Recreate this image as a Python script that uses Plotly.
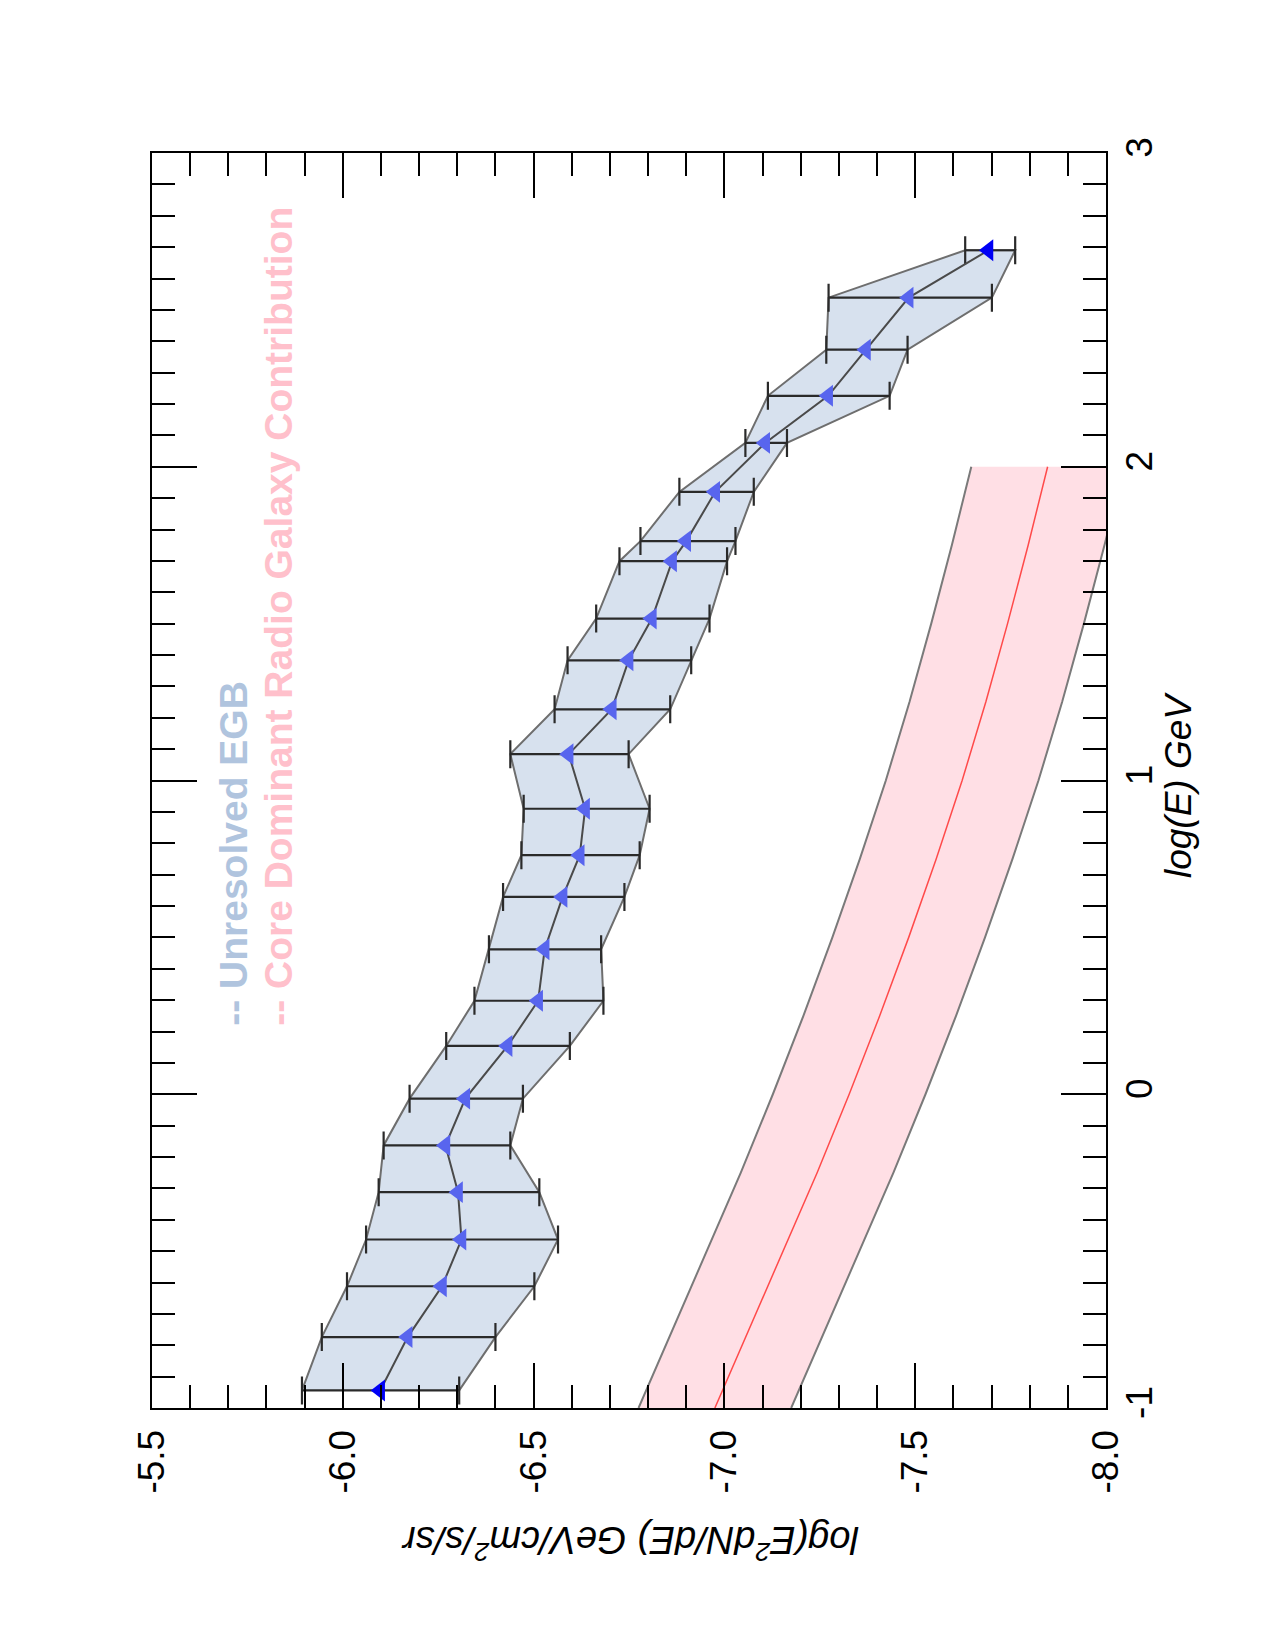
import plotly.graph_objects as go

# ---------------- data ----------------
# Unresolved EGB: log(E) [GeV] and log(E^2 dN/dE) central / upper / lower
egb_logE = [-0.944, -0.774, -0.612, -0.463, -0.312, -0.163, -0.014, 0.154, 0.298, 0.462,
            0.629, 0.762, 0.910, 1.084, 1.227, 1.383, 1.516, 1.699, 1.763, 1.920,
            2.076, 2.226, 2.373, 2.539, 2.690]
egb_flux = [-6.098, -6.170, -6.260, -6.311, -6.302, -6.269, -6.321, -6.432, -6.512, -6.529,
            -6.576, -6.621, -6.635, -6.592, -6.705, -6.749, -6.810, -6.863, -6.900, -6.976,
            -7.107, -7.272, -7.371, -7.483, -7.692]
egb_flux_hi = [-5.893, -5.945, -6.011, -6.061, -6.094, -6.107, -6.175, -6.271, -6.345, -6.383,
               -6.420, -6.468, -6.474, -6.439, -6.555, -6.589, -6.664, -6.725, -6.780, -6.882,
               -7.055, -7.114, -7.267, -7.273, -7.631]
egb_flux_lo = [-6.305, -6.400, -6.502, -6.564, -6.515, -6.439, -6.472, -6.595, -6.683, -6.677,
               -6.738, -6.778, -6.804, -6.749, -6.858, -6.913, -6.961, -7.007, -7.029, -7.077,
               -7.164, -7.433, -7.480, -7.701, -7.762]

# Core dominant radio galaxy contribution
core_logE = [-1.0, -0.75, -0.5, -0.25, 0.0, 0.25, 0.5, 0.75, 1.0, 1.25, 1.5, 1.75, 2.0]
core_flux = [-6.975, -7.065, -7.155, -7.243, -7.327, -7.407, -7.483, -7.555, -7.623, -7.685,
             -7.742, -7.796, -7.847]
core_flux_hi = [-6.775, -6.865, -6.955, -7.043, -7.127, -7.207, -7.283, -7.355, -7.423, -7.485,
                -7.542, -7.596, -7.647]
core_flux_lo = [-7.175, -7.265, -7.355, -7.443, -7.527, -7.607, -7.683, -7.755, -7.823, -7.885,
                -7.942, -7.996, -8.047]

flux_ticks = [-5.5, -6.0, -6.5, -7.0, -7.5, -8.0]
flux_ticklabels = ["-5.5", "-6.0", "-6.5", "-7.0", "-7.5", "-8.0"]
logE_ticks = [-1, 0, 1, 2, 3]
logE_ticklabels = ["-1", "0", "1", "2", "3"]

FONT = "Liberation Sans, Arial, Helvetica, sans-serif"

fig = go.Figure()

# pink band (fill only)
fig.add_trace(go.Scatter(
    x=core_flux_hi + core_flux_lo[::-1], y=core_logE + core_logE[::-1],
    mode="lines", fill="toself", fillcolor="rgba(255,192,203,0.5)",
    line=dict(width=0), hoverinfo="skip", showlegend=False))
for arr in (core_flux_hi, core_flux_lo):
    fig.add_trace(go.Scatter(x=arr, y=core_logE, mode="lines",
                             line=dict(color="#7a7a7a", width=2), showlegend=False))
fig.add_trace(go.Scatter(x=core_flux, y=core_logE, mode="lines",
                         line=dict(color="#ff4a4a", width=1.5), showlegend=False))

# EGB band
fig.add_trace(go.Scatter(
    x=egb_flux_hi + egb_flux_lo[::-1], y=egb_logE + egb_logE[::-1],
    mode="lines", fill="toself", fillcolor="rgba(176,196,222,0.5)",
    line=dict(color="#6e6e6e", width=2), showlegend=False))

err_plus = [h - c for h, c in zip(egb_flux_hi, egb_flux)]
err_minus = [c - l for c, l in zip(egb_flux, egb_flux_lo)]
marker_colors = ["#5865ee"] * len(egb_flux)
marker_colors[0] = "rgb(0,0,245)"
marker_colors[-1] = "rgb(0,0,245)"

fig.add_trace(go.Scatter(
    x=egb_flux, y=egb_logE, mode="lines+markers",
    line=dict(color="#4a4a4a", width=2),
    marker=dict(symbol="triangle-left", size=19, color=marker_colors, line=dict(width=0)),
    error_x=dict(type="data", symmetric=False, array=err_plus, arrayminus=err_minus,
                 color="#2a2a2a", thickness=2.2, width=14),
    showlegend=False))

axis_common = dict(
    showline=True, linecolor="black", linewidth=2, mirror="ticks",
    ticks="inside", ticklen=45, tickwidth=2, tickcolor="black",
    showgrid=False, zeroline=False, tickangle=-90,
    tickfont=dict(family=FONT, size=37, color="black"),
    minor=dict(ticks="inside", ticklen=23, tickwidth=2, tickcolor="black",
               dtick=0.1, tick0=0, showgrid=False),
)

fig.update_xaxes(range=[-5.5, -8.0], tickvals=flux_ticks, ticktext=flux_ticklabels,
                 ticklabelstandoff=5, **axis_common)
fig.update_yaxes(range=[-1, 3], side="right", tickvals=logE_ticks, ticktext=logE_ticklabels,
                 ticklabelstandoff=0, **axis_common)

fig.update_layout(
    width=1275, height=1650,
    margin=dict(l=152, r=169, t=153, b=242, pad=0),
    paper_bgcolor="white", plot_bgcolor="white",
    showlegend=False,
    annotations=[
        dict(text="<i>log(E) GeV</i>", xref="paper", yref="paper",
             x=1.0755, y=0.4964, textangle=-90, showarrow=False,
             xanchor="center", yanchor="middle",
             font=dict(family=FONT, size=37, color="black")),
        dict(text="<i>log(E<sup>2</sup>dN/dE) GeV/cm<sup>2</sup>/s/sr</i>",
             xref="paper", yref="paper", x=0.501, y=-0.1076, textangle=180,
             showarrow=False, xanchor="center", yanchor="middle",
             font=dict(family=FONT, size=38, color="black")),
        dict(text="<b>-- Unresolved EGB</b>", xref="paper", yref="paper",
             x=0.0852, y=0.3028, textangle=-90, showarrow=False,
             xanchor="center", yanchor="bottom",
             font=dict(family=FONT, size=39, color="#b0c4de")),
        dict(text="<b>-- Core Dominant Radio Galaxy Contribution</b>", xref="paper", yref="paper",
             x=0.1324, y=0.3028, textangle=-90, showarrow=False,
             xanchor="center", yanchor="bottom",
             font=dict(family=FONT, size=39, color="#ffc0cb")),
    ],
)

fig.write_html("out.html")
